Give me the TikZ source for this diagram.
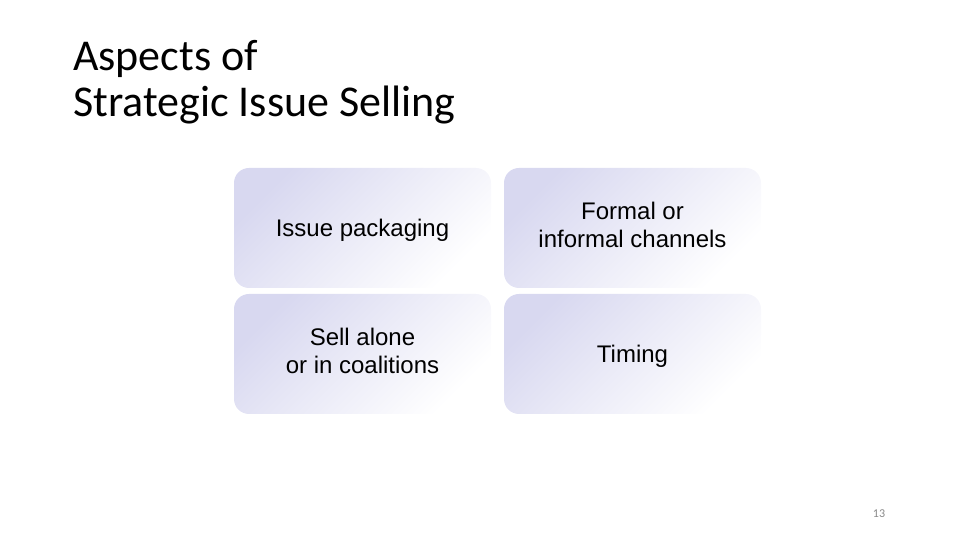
\documentclass[tikz,border=0pt]{standalone}
\usepackage{fontspec}
\setmainfont{Liberation Sans}
\newfontfamily\titlefont{Carlito}
\usetikzlibrary{positioning}
\definecolor{lavender}{RGB}{216,216,240}
\definecolor{pagegray}{RGB}{137,137,137}
\newcommand{\aspectstrut}{\rule[-5.4pt]{0pt}{28pt}}

\begin{document}
\begin{tikzpicture}[x=1pt, y=1pt, node distance=13pt]
    \tikzset{
        heading/.style={anchor=north west, inner sep=0pt, align=left, font=\titlefont\fontsize{44}{46}\selectfont},
        aspect/.style={rectangle, rounded corners=15pt, minimum width=257pt, minimum height=120pt, inner sep=0pt, outer sep=0pt, align=center, font=\fontsize{24}{28}\selectfont, execute at begin node=\aspectstrut, execute at end node=\aspectstrut, top color=lavender, bottom color=white, shading angle=45},
        pagenum/.style={font=\titlefont\fontsize{12}{14}\selectfont, text=pagegray}
    }
    \useasboundingbox (0,0) rectangle (960,540);

        \node[heading] (title) at (73,500) {Aspects of\\Strategic Issue Selling};

        \node[aspect] (pack) at (362.5,312) {Issue packaging};
        \node[aspect] (chan) [right=13pt of pack] {Formal or\\informal channels};
        \node[aspect] (sell) [below=6pt of pack] {Sell alone\\or in coalitions};
        \node[aspect] (time) [below=6pt of chan] {Timing};

        \node[pagenum] (page) at (879,26) {13};

    \end{tikzpicture}
\end{document}
